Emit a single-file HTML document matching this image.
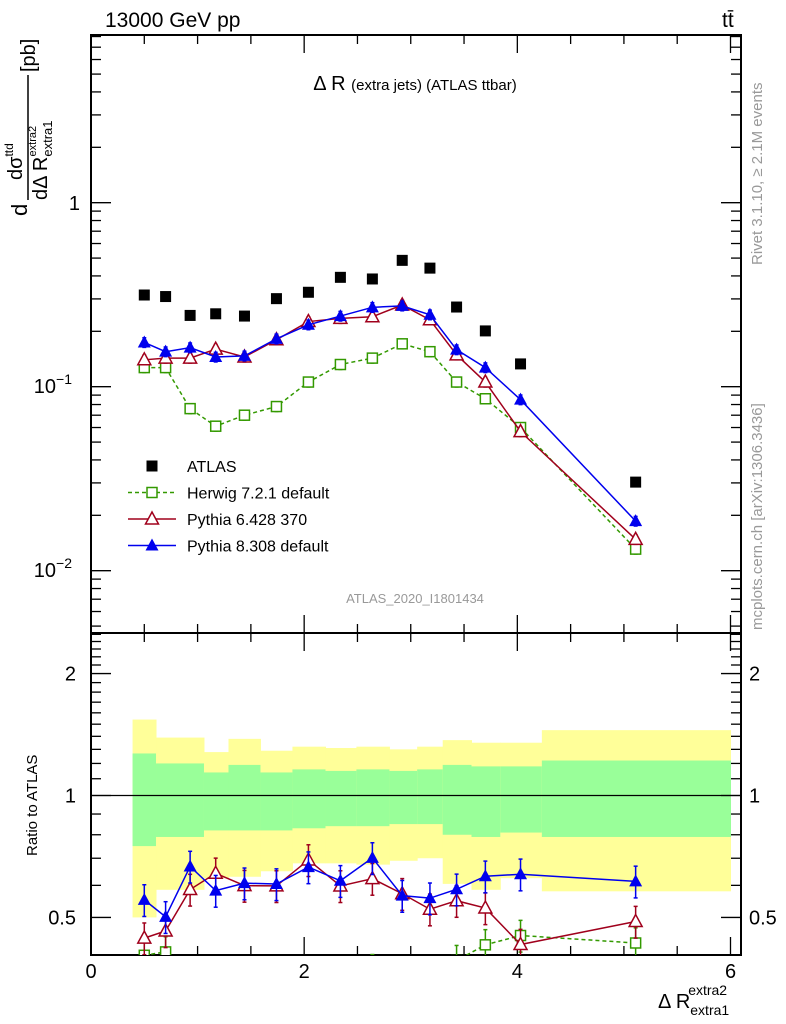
<!DOCTYPE html>
<html><head><meta charset="utf-8">
<style>
body{margin:0;background:#fff;}
svg{display:block;font-family:"Liberation Sans",sans-serif;}
</style></head>
<body>
<svg id="c" width="786" height="1024" viewBox="0 0 786 1024" xmlns="http://www.w3.org/2000/svg">
<text x="105" y="27" font-size="21">13000 GeV pp</text>
<text x="722" y="27" font-size="21">tt̄</text>
<text x="415" y="90" font-size="20" text-anchor="middle">Δ R <tspan font-size="15">(extra jets) (ATLAS ttbar)</tspan></text>
<text x="415" y="603" font-size="13" fill="#999" text-anchor="middle">ATLAS_2020_I1801434</text>
<text transform="translate(762,265) rotate(-90)" font-size="15" fill="#999">Rivet 3.1.10, ≥ 2.1M events</text>
<text transform="translate(762,630) rotate(-90)" font-size="15" fill="#999">mcplots.cern.ch [arXiv:1306.3436]</text>
<g transform="translate(30,212) rotate(-90)">
<text x="-4" y="-3" font-size="22">d</text>
<text x="32" y="-8" font-size="20">dσ<tspan font-size="12" dy="-9">ttd</tspan></text>
<line x1="12" y1="-2" x2="137" y2="-2" stroke="#000" stroke-width="1.5"/>
<text x="12" y="17" font-size="20">dΔ R<tspan font-size="13" dy="5">extra1</tspan><tspan font-size="11" dx="-36" dy="-16">extra2</tspan></text>
<text x="140" y="5" font-size="20">[pb]</text>
</g>
<text transform="translate(37,856) rotate(-90)" font-size="15">Ratio to ATLAS</text>
<text x="658" y="1008" font-size="20">Δ R<tspan font-size="14" dy="7">extra1</tspan><tspan font-size="14" dx="-41" dy="-20">extra2</tspan></text>
<g id="plot"></g>
</svg>
<script>
const xVals=[0.50,0.70,0.93,1.17,1.44,1.74,2.04,2.34,2.64,2.92,3.18,3.43,3.70,4.03,5.11];
const atlas=[0.315,0.309,0.244,0.249,0.242,0.301,0.326,0.393,0.385,0.486,0.441,0.271,0.201,0.133,0.0303];
const herwig=[0.127,0.127,0.076,0.061,0.070,0.078,0.106,0.132,0.143,0.171,0.155,0.106,0.086,0.060,0.0131];
const pythia6=[0.140,0.143,0.143,0.160,0.145,0.180,0.226,0.235,0.240,0.278,0.231,0.149,0.106,0.057,0.0148];
const pythia8=[0.174,0.155,0.163,0.145,0.147,0.182,0.217,0.242,0.270,0.275,0.246,0.159,0.127,0.085,0.0186];
const binEdges=[0.39,0.61,1.06,1.29,1.59,1.89,2.20,2.49,2.80,3.06,3.30,3.57,3.84,4.23,6.0];
const yellowHi=[1.54,1.39,1.28,1.38,1.29,1.32,1.31,1.32,1.30,1.32,1.37,1.35,1.35,1.45];
const greenHi=[1.27,1.20,1.14,1.19,1.14,1.16,1.15,1.16,1.15,1.16,1.19,1.18,1.18,1.22];
const greenLo=[0.75,0.79,0.82,0.82,0.82,0.83,0.84,0.84,0.85,0.85,0.80,0.79,0.81,0.79];
const yellowLo=[0.50,0.585,0.625,0.63,0.65,0.68,0.68,0.675,0.69,0.70,0.605,0.585,0.625,0.58];
const xTicks=[0,2,4,6];

const NS="http://www.w3.org/2000/svg";
const g=document.getElementById('plot');
const L=91,R=741,T1=35,B1=633,T2=633,B2=955;
const X=v=>L+(v)*(730.5-91)/6;
const Y1=v=>202.7-184*Math.log10(v);
const Y2=v=>795.5-405*Math.log10(v);
function el(t,a,p){const e=document.createElementNS(NS,t);for(const k in a)e.setAttribute(k,a[k]);(p||g).appendChild(e);return e;}

const cp=el('clipPath',{id:'rc'});el('rect',{x:L,y:T2,width:R-L,height:B2-T2},cp);
const cp1=el('clipPath',{id:'mc'});el('rect',{x:L,y:T1,width:R-L,height:B1-T1},cp1);
const bands=el('g',{'clip-path':'url(#rc)'});


for(let i=0;i<yellowHi.length;i++){
  const x0=X(binEdges[i]),w=X(binEdges[i+1])-x0+0.5;
  const y=el('rect',{x:x0,y:Y2(yellowHi[i]),width:w,height:Y2(yellowLo[i])-Y2(yellowHi[i]),fill:'#ffff99'},bands);
  
  
  const gr=el('rect',{x:x0,y:Y2(greenHi[i]),width:w,height:Y2(greenLo[i])-Y2(greenHi[i]),fill:'#99ff99'},bands);
  
  
}
el('line',{x1:L,x2:R,y1:Y2(1),y2:Y2(1),stroke:'#000','stroke-width':1.2});

function frame(T,B){el('rect',{x:L,y:T,width:R-L,height:B-T,fill:'none',stroke:'#000','stroke-width':2});}
frame(T1,B1);frame(T2,B2);
function xticks(T,B){
  for(let v=0;v<=6.001;v+=0.5){const maj=Math.abs(v-Math.round(v/2)*2)<1e-6;const len=maj?18:9;const x=X(v);
    el('line',{x1:x,x2:x,y1:B,y2:B-len,stroke:'#000','stroke-width':1.3});
    el('line',{x1:x,x2:x,y1:T,y2:T+len,stroke:'#000','stroke-width':1.3});}
}
xticks(T1,B1);xticks(T2,B2);
function logticks(Yf,lo,hi,T,B){
  for(let d=-4;d<=2;d++)for(let m=1;m<10;m++){const v=m*Math.pow(10,d);if(v<lo||v>hi)continue;const y=Yf(v);if(y<T||y>B)continue;
    const len=m==1?20:10;
    el('line',{x1:L,x2:L+len,y1:y,y2:y,stroke:'#000','stroke-width':1.3});
    el('line',{x1:R,x2:R-len,y1:y,y2:y,stroke:'#000','stroke-width':1.3});}
}
logticks(Y1,0.004,9,T1,B1);
for(let v=0.4;v<=2.5001;v+=0.1){const y=Y2(v);if(y<T2+1||y>B2-1)continue;const maj=Math.abs(v-0.5)<1e-6||Math.abs(v-1)<1e-6||Math.abs(v-2)<1e-6;const len=maj?20:10;
  el('line',{x1:L,x2:L+len,y1:y,y2:y,stroke:'#000','stroke-width':1.3});
  el('line',{x1:R,x2:R-len,y1:y,y2:y,stroke:'#000','stroke-width':1.3});}
function txt(s,x,y,a,fs,name){const t=el('text',{x:x,y:y,'text-anchor':a,'font-size':fs});t.textContent=s;return t;}
xTicks.forEach(v=>txt(String(v),X(v),978,'middle',20,'x-tick-label'));
txt('1',80,210,'end',20,'y-tick-label');
const t1=txt('10',72,393,'end',20,'y-tick-label');const s1=el('tspan',{dy:-9,'font-size':14},t1);s1.textContent='−1';
const t2=txt('10',72,577,'end',20,'y-tick-label');const s2=el('tspan',{dy:-9,'font-size':14},t2);s2.textContent='−2';
[['2',2],['1',1],['0.5',0.5]].forEach(([s,v])=>{txt(s,76,Y2(v)+7,'end',20,'ratio-tick-label');txt(s,749,Y2(v)+7,'start',20,'ratio-tick-label-right');});

function marker(kind,x,y,col,parent){
  let m;
  if(kind=='sq')m=el('rect',{x:x-5.5,y:y-5.5,width:11,height:11,fill:'#000'},parent);
  else if(kind=='osq')m=el('rect',{x:x-5,y:y-5,width:10,height:10,fill:'#fff',stroke:col,'stroke-width':1.5},parent);
  else if(kind=='otri')m=el('polygon',{points:`${x},${y-7} ${x-6.5},${y+5} ${x+6.5},${y+5}`,fill:'#fff',stroke:col,'stroke-width':1.5},parent);
  else m=el('polygon',{points:`${x},${y-7} ${x-6.5},${y+5} ${x+6.5},${y+5}`,fill:col},parent);
  return m;
}
function series(vals,Yf,col,kind,dash,name,clip,ratio){
  const sg=el('g',{'clip-path':clip});
  
  
  const v=vals.map((d,i)=>ratio?d/atlas[i]:d);
  if(col){
    el('polyline',{points:v.map((d,i)=>X(xVals[i])+','+Yf(d)).join(' '),fill:'none',stroke:col,'stroke-width':1.5,'stroke-dasharray':dash||'none'},sg);
    v.forEach((d,i)=>{const x=X(xVals[i]);const e=ratio?0.09:0.06;
      el('line',{x1:x,x2:x,y1:Yf(d*(1+e)),y2:Yf(d*(1-e)),stroke:col,'stroke-width':1.5},sg);
      el('line',{x1:x-2,x2:x+2,y1:Yf(d*(1+e)),y2:Yf(d*(1+e)),stroke:col,'stroke-width':1.5},sg);
      el('line',{x1:x-2,x2:x+2,y1:Yf(d*(1-e)),y2:Yf(d*(1-e)),stroke:col,'stroke-width':1.5},sg);});
  }
  v.forEach((d,i)=>{const m=marker(kind,X(xVals[i]),Yf(d),col,sg);});
}
series(atlas,Y1,null,'sq',null,'atlas-data','url(#mc)');
series(herwig,Y1,'#339900','osq','4,3','herwig-series','url(#mc)');
series(pythia6,Y1,'#a0001c','otri',null,'pythia6-series','url(#mc)');
series(pythia8,Y1,'#0000ee','tri',null,'pythia8-series','url(#mc)');
series(herwig,Y2,'#339900','osq','4,3','herwig-ratio','url(#rc)',true);
series(pythia6,Y2,'#a0001c','otri',null,'pythia6-ratio','url(#rc)',true);
series(pythia8,Y2,'#0000ee','tri',null,'pythia8-ratio','url(#rc)',true);

const lg=el('g',{});


const items=[['ATLAS',null,'sq',null],['Herwig 7.2.1 default','#339900','osq','4,3'],['Pythia 6.428 370','#a0001c','otri',null],['Pythia 8.308 default','#0000ee','tri',null]];
items.forEach((it,i)=>{const y=466+i*26.5;const eg=el('g',{},lg);
  
  
  if(it[1])el('line',{x1:128,x2:176,y1:y,y2:y,stroke:it[1],'stroke-width':1.5,'stroke-dasharray':it[3]||'none'},eg);
  marker(it[2],152,y,it[1],eg);
  const t=el('text',{x:187,y:y+6,'font-size':16},eg);t.textContent=it[0];});
</script>
</body></html>
